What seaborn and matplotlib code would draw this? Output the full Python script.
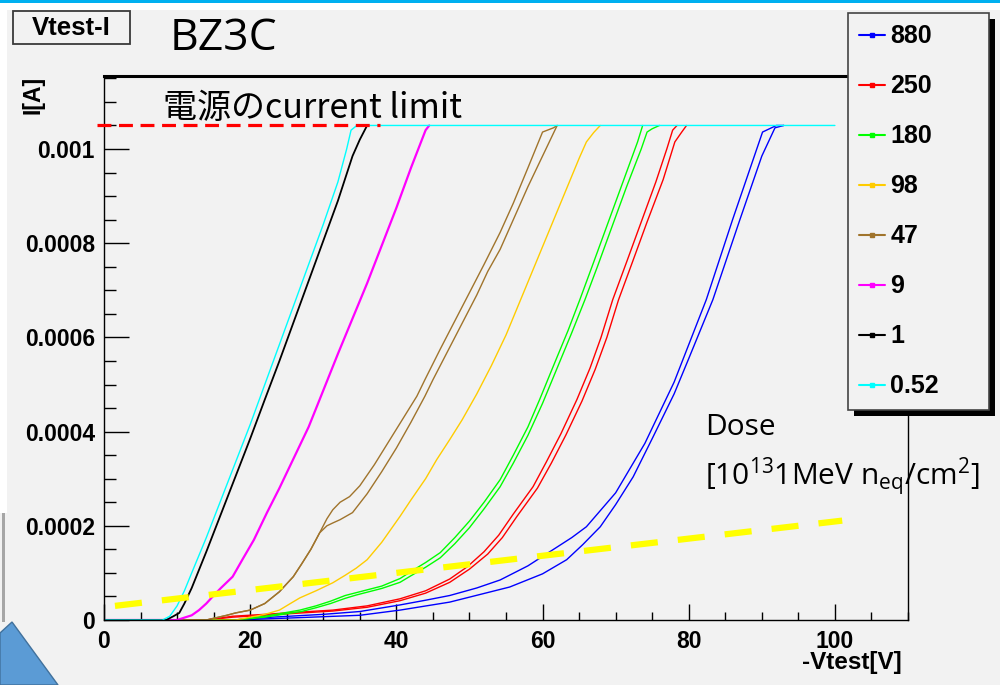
import numpy as np
import pandas as pd
import matplotlib
matplotlib.use("Agg")
import matplotlib.pyplot as plt
import seaborn as sns
from matplotlib.lines import Line2D
from matplotlib.patches import Rectangle, Polygon
from matplotlib.ticker import MultipleLocator, FuncFormatter

# ---------------- data (voltage in V, current in uA) ----------------
dose_labels = ['880', '250', '180', '98', '47', '9', '1', '0.52']
dose_colors = ['#0000ff', '#ff0000', '#00ff00', '#ffcc00', '#a0742c', '#ff00ff', '#000000', '#00ffff']

v_880a = [0, 18, 23, 30, 35, 40.5, 44, 47.3, 51, 54.2, 58, 61.4, 64, 66, 70, 74, 78, 82.4, 86, 90.1, 92, 93]
i_880a = [0, 0, 6, 12, 18, 32, 42, 52, 68, 85, 115, 149, 175, 198, 270, 375, 505, 680, 850, 1036, 1050, 1050]
v_880b = [0, 18, 25, 35, 40.5, 47.3, 55.5, 60, 63.3, 65.5, 67.9, 70, 72.4, 75, 78, 80, 83.3, 87, 90, 91.8, 93]
i_880b = [0, 0, 4, 10, 21, 38, 70, 98, 128, 160, 198, 245, 304, 385, 480, 555, 680, 850, 985, 1045, 1050]

v_250a = [0, 14, 17.6, 22, 26, 31.3, 36, 40.5, 44, 47.3, 49.7, 52, 54, 56, 58.7, 60.5, 62.5, 64.7, 66.5, 68, 69.6, 71.5, 73.5, 75.5, 77, 77.8, 78.4]
i_250a = [0, 0, 8, 12, 16, 21, 30, 45, 62, 87, 113, 145, 180, 225, 283, 335, 395, 468, 535, 600, 680, 760, 845, 930, 1000, 1040, 1050]
v_250b = [0, 14, 17.6, 22, 26, 31.3, 36, 40.5, 44, 47.3, 50, 52.5, 54.5, 56.5, 59.3, 61.2, 63.2, 65.4, 67.2, 68.8, 70.4, 72.3, 74.3, 76.5, 78.1, 79, 79.7]
i_250b = [0, 0, 6, 10, 14, 19, 27, 41, 57, 80, 108, 140, 175, 220, 280, 333, 393, 465, 532, 600, 680, 760, 845, 935, 1015, 1035, 1050]

v_180a = [0, 18, 22, 26.8, 29, 31, 33, 34.5, 36, 38, 40.5, 42, 44, 46, 48, 50, 52, 54.2, 56, 58, 59.6, 61.5, 63.5, 65.1, 67, 69, 71, 73, 73.7]
i_180a = [0, 0, 8, 21, 30, 40, 52, 58, 64, 72, 88, 103, 122, 143, 175, 210, 250, 298, 350, 410, 468, 540, 615, 680, 760, 845, 930, 1015, 1050]
v_180b = [0, 18, 22, 27, 29, 31, 33, 34.5, 36, 38, 40.5, 42, 44, 46, 48, 50, 52, 54.2, 56, 58, 60, 62, 64, 65.8, 67.5, 69.5, 71.5, 73.5, 74.3, 75, 76]
i_180b = [0, 0, 6, 18, 26, 35, 46, 53, 59, 67, 80, 94, 112, 132, 162, 196, 236, 283, 333, 392, 460, 535, 610, 680, 750, 835, 920, 1000, 1036, 1043, 1050]

v_98 = [0, 18, 22, 24, 25.5, 26.8, 29, 31.3, 33, 34.5, 36, 38, 40.5, 42, 44, 45.5, 47.3, 49, 51, 53, 55, 57, 59, 61, 63, 65, 66, 67, 67.9]
i_98 = [0, 0, 12, 21, 35, 47, 62, 79, 95, 110, 128, 165, 220, 255, 300, 340, 383, 425, 480, 540, 605, 680, 755, 830, 905, 980, 1015, 1035, 1050]

v_47a = [0, 14, 16.8, 18, 20, 22, 24, 25.9, 27, 28.3, 29.5, 30.5, 31.3, 32.3, 33.6, 35, 37, 39, 41, 42.8, 43.9, 46, 48, 50, 52, 54.2, 56, 58, 60, 61.5, 62]
i_47a = [0, 0, 10, 15, 21, 35, 60, 92, 118, 150, 185, 215, 234, 250, 262, 285, 330, 380, 430, 475, 510, 575, 635, 695, 755, 823, 885, 960, 1036, 1045, 1050]
v_47b = [0, 14, 16.8, 18, 20, 22, 24, 25.9, 27, 28.3, 29.5, 30.5, 31.3, 32.3, 34, 36, 38, 40, 42, 43.9, 45, 47, 49, 51, 52.5, 54.2, 56, 58, 60, 62]
i_47b = [0, 0, 10, 15, 21, 35, 60, 92, 118, 150, 185, 200, 206, 213, 228, 268, 315, 365, 420, 475, 510, 570, 630, 690, 740, 787, 850, 920, 985, 1050]

v_9 = [0, 10, 12, 13, 14, 15, 16, 17.6, 19, 20.5, 22.3, 24, 26, 28, 29.5, 32, 34, 36, 38, 40, 42, 44, 44.5]
i_9 = [0, 0, 10, 21, 35, 52, 68, 92, 130, 170, 228, 280, 345, 410, 468, 565, 640, 715, 795, 875, 960, 1040, 1050]

v_1 = [0, 8.5, 9.5, 10.3, 11, 12, 14, 16, 18, 20, 22, 24, 26, 28, 30, 32, 34, 35, 36]
i_1 = [0, 0, 8, 15, 35, 68, 145, 225, 305, 385, 468, 550, 635, 720, 805, 890, 985, 1020, 1050]

v_052 = [0, 8, 9, 10, 11, 12, 14, 16, 18, 20, 22, 24, 26, 28, 30, 32, 33.2, 33.8, 34.6, 100]
i_052 = [0, 0, 8, 30, 62, 100, 175, 255, 335, 415, 500, 585, 670, 755, 840, 930, 1000, 1040, 1050, 1050]

curves = [
    ('880', v_880a, i_880a), ('880', v_880b, i_880b),
    ('250', v_250a, i_250a), ('250', v_250b, i_250b),
    ('180', v_180a, i_180a), ('180', v_180b, i_180b),
    ('98', v_98, i_98),
    ('47', v_47a, i_47a), ('47', v_47b, i_47b),
    ('9', v_9, i_9),
    ('1', v_1, i_1),
    ('0.52', v_052, i_052),
]

limit_uA = 1050            # supply current limit
limit_v = [-1, 37.8]
guide_v = [1.5, 101]       # yellow guide line
guide_uA = [30, 211]

# ---------------- style ----------------
BG = '#f2f2f2'
sns.set_theme(style='ticks', rc={'axes.facecolor': BG, 'figure.facecolor': BG,
                                 'axes.edgecolor': 'black', 'xtick.color': 'black',
                                 'ytick.color': 'black', 'text.color': 'black',
                                 'axes.labelcolor': 'black'})
plt.rcParams['font.family'] = ['Liberation Sans', 'DejaVu Sans']
plt.rcParams['lines.scale_dashes'] = False
plt.rcParams['mathtext.fontset'] = 'custom'
plt.rcParams['mathtext.rm'] = 'Open Sans'
plt.rcParams['mathtext.it'] = 'Open Sans'

W, H = 1000, 685
fig = plt.figure(figsize=(10, 6.85), dpi=100)
ax = fig.add_axes([104 / W, 1 - 620 / H, 804 / W, 544 / H])

cmap = dict(zip(dose_labels, dose_colors))
lw_map = {'9': 1.6, '1': 1.3}
for lab, v, i in curves:
    sns.lineplot(x=np.array(v), y=np.array(i) * 1e-6, ax=ax, color=cmap[lab],
                 lw=lw_map.get(lab, 1.0), estimator=None, sort=False, legend=False)

# annotation lines
ax.plot(limit_v, [limit_uA * 1e-6] * 2, color='#ff0000', lw=2.3,
        dashes=(10, 5.5), clip_on=False, zorder=6, solid_capstyle='butt')
ax.plot(guide_v, np.array(guide_uA) * 1e-6, color='#ffff00', lw=4.5,
        dashes=(19.5, 14.5), dash_capstyle='butt', zorder=6)

ax.set_xlim(0, 110)
ax.set_ylim(0, 0.001155)
ax.xaxis.set_major_locator(MultipleLocator(20))
ax.xaxis.set_minor_locator(MultipleLocator(5))
ax.yaxis.set_major_locator(MultipleLocator(0.0002))
ax.yaxis.set_minor_locator(MultipleLocator(0.00005))
fmt = FuncFormatter(lambda val, p: '0' if abs(val) < 1e-12 else '%g' % val)
ax.xaxis.set_major_formatter(FuncFormatter(lambda val, p: '%g' % val if val <= 100 else ''))
ax.yaxis.set_major_formatter(fmt)

ax.tick_params(axis='x', which='major', direction='in', length=11.5, width=1.0,
               pad=7, labelsize=16.5)
ax.tick_params(axis='x', which='minor', direction='in', length=5.8, width=1.0)
ax.tick_params(axis='y', which='major', direction='in', length=18, width=1.0,
               pad=6.5, labelsize=16.5)
ax.tick_params(axis='y', which='minor', direction='in', length=8.6, width=1.0)
for t in ax.get_xticklabels() + ax.get_yticklabels():
    t.set_fontweight('bold')
for s in ['left', 'bottom', 'right']:
    ax.spines[s].set_linewidth(1.0)
ax.spines['top'].set_linewidth(2.2)
ax.spines['right'].set_visible(True)
ax.spines['top'].set_visible(True)

ax.set_xlabel('-Vtest[V]', loc='right', fontsize=17.5, fontweight='bold')
ax.xaxis.set_label_coords(1 - 6 / 804, (620 - 651) / 544)
ax.xaxis.label.set_va('top')
ax.set_ylabel('I[A]', loc='top', fontsize=16.5, fontweight='bold')
ax.yaxis.set_label_coords((45 - 104) / 804, 1.0)

# legend
handles = [Line2D([0], [0], color=c, lw=1.5, marker='s', markersize=3.2) for c in dose_colors]
leg = ax.legend(handles, dose_labels, loc='upper left',
                bbox_to_anchor=(848 / W, 1 - 411 / H, 141 / W, 398 / H),
                bbox_transform=fig.transFigure, mode='expand', borderaxespad=0,
                frameon=True, fancybox=False, edgecolor='#444444', facecolor=BG,
                framealpha=1, prop={'family': 'Liberation Sans', 'weight': 'bold', 'size': 18},
                labelspacing=1.04, borderpad=0.45, handlelength=1.04, handletextpad=0.2)
leg.get_frame().set_linewidth(1.2)
leg.set_zorder(10)

# slide texts
fig.text(170 / W, 1 - 50 / H, 'BZ3C', fontsize=32, family=['Open Sans', 'DejaVu Sans'],
         va='baseline', ha='left')
fig.text(163 / W, 1 - 118 / H, '電源のcurrent limit', fontsize=24.5,
         family=['Noto Sans CJK JP', 'DejaVu Sans'], va='baseline', ha='left', zorder=7)
fig.text(705 / W, 1 - 435 / H, 'Dose', fontsize=21.5, family=['Open Sans', 'DejaVu Sans'],
         va='baseline', ha='left')
fig.text(705 / W, 1 - 485 / H, r'[10$^{13}$1MeV n$_{\mathrm{eq}}$/cm$^{2}$]', fontsize=21.5,
         family=['Open Sans', 'DejaVu Sans'], va='baseline', ha='left')

# title box
fig.add_artist(Rectangle((13 / W, 1 - 44 / H), 117 / W, 33 / H, transform=fig.transFigure,
                         fc=BG, ec='#3a3a3a', lw=1.3, zorder=3))
fig.text(71.5 / W, 1 - 28 / H, 'Vtest-I', fontsize=18.5, fontweight='bold',
         ha='center', va='center', zorder=4)

# slide decorations
def px(x, y):
    return (x / W, 1 - y / H)

fig.add_artist(Rectangle(px(0, 10), 1, 7 / H, transform=fig.transFigure, fc='white', ec='none', zorder=1))
fig.add_artist(Rectangle(px(0, 3), 1, 3 / H, transform=fig.transFigure, fc='#00b0f0', ec='none', zorder=2))
fig.add_artist(Rectangle(px(0, 513), 7 / W, 503 / H, transform=fig.transFigure, fc='white', ec='none', zorder=1))
fig.add_artist(Rectangle(px(2, 622), 3 / W, 109 / H, transform=fig.transFigure, fc='#a6a6a6', ec='none', zorder=1))
fig.add_artist(Polygon([px(0, 633), px(12, 622), px(58, 685), px(0, 685)], closed=True,
                       transform=fig.transFigure, fc='#5b9bd5', ec='#41719c', lw=1.0, zorder=5))

# legend shadow
fig.canvas.draw()
bb = leg.get_window_extent(fig.canvas.get_renderer())
shadow = Rectangle(((bb.x0 + 6) / W, (bb.y0 - 6) / H), bb.width / W, bb.height / H,
                   transform=fig.transFigure, fc='black', ec='none', zorder=9.5)
shadow.set_clip_on(False)
ax.add_artist(shadow)

fig.savefig('out.png', dpi=100, facecolor=BG)
